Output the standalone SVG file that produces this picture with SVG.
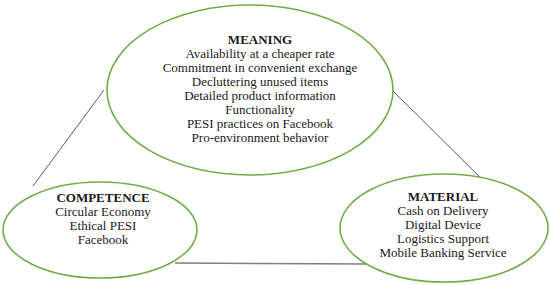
<svg xmlns="http://www.w3.org/2000/svg" width="550" height="285" viewBox="0 0 550 285">
<style>
.node ellipse{fill:#fff;stroke:#70ad47;stroke-width:1.6}
text{font-family:"Liberation Serif","DejaVu Serif",serif;font-size:13px;fill:#1a1a1a;text-anchor:middle}
.h{font-weight:bold}
.c1{stroke:#333;stroke-width:0.8;fill:none}
.c2{stroke:#7f7f7f;stroke-width:1.5;fill:none}
</style>
<rect width="550" height="285" fill="#fff"/>
<g id="connectors">
<line class="c1" x1="104" y1="90" x2="33" y2="186"/>
<line class="c1" x1="392" y1="90" x2="490" y2="187"/>
<line class="c2" x1="175" y1="263" x2="372" y2="264"/>
</g>
<g id="meaning" class="node">
<ellipse cx="250" cy="90" rx="143" ry="85"/>
<text x="260" y="44" class="h">MEANING</text>
<text x="260" y="58">Availability at a cheaper rate</text>
<text x="260" y="72">Commitment in convenient exchange</text>
<text x="260" y="86">Decluttering unused items</text>
<text x="260" y="100">Detailed product information</text>
<text x="260" y="114">Functionality</text>
<text x="260" y="128">PESI practices on Facebook</text>
<text x="260" y="142">Pro-environment behavior</text>
</g>
<g id="competence" class="node">
<ellipse cx="100" cy="230" rx="97" ry="48"/>
<text x="103" y="202" class="h">COMPETENCE</text>
<text x="103" y="216">Circular Economy</text>
<text x="103" y="230">Ethical PESI</text>
<text x="103" y="244">Facebook</text>
</g>
<g id="material" class="node">
<ellipse cx="444" cy="228" rx="104" ry="54"/>
<text x="443" y="201" class="h">MATERIAL</text>
<text x="443" y="215">Cash on Delivery</text>
<text x="443" y="229">Digital Device</text>
<text x="443" y="243">Logistics Support</text>
<text x="443" y="257">Mobile Banking Service</text>
</g>
</svg>
